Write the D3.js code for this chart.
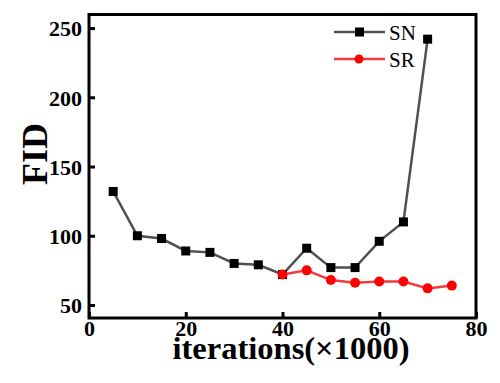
<!DOCTYPE html>
<html><head><meta charset="utf-8">
<script src="https://cdn.jsdelivr.net/npm/d3@7"></script>
<style>body{margin:0;background:#fff}svg{display:block}</style>
</head><body>
<svg id="c" width="500" height="383"></svg>
<script>
const snX = [5,10,15,20,25,30,35,40,45,50,55,60,65,70];
const snY = [132,100,98,89,88,80,79,72,91,77,77,96,110,242];
const srX = [40,45,50,55,60,65,70,75];
const srY = [72,75,68,66,67,67,62,64];
const xTicks = [0,20,40,60,80];
const yTicks = [50,100,150,200,250];
const seriesNames = ["SN","SR"];

const svg = d3.select("#c");
const L=89, R=476, T=14.5, B=318;
const x = d3.scaleLinear().domain([0,80]).range([L,R]);
const y = d3.scaleLinear().domain([40.6,259.8]).range([B,T]);
const font = "'Liberation Serif','Times New Roman',serif";

const xa = svg.append("g").attr("transform",`translate(0,${B})`)
  .call(d3.axisBottom(x).tickValues(xTicks).tickSizeInner(-6).tickSizeOuter(0).tickPadding(14));
const ya = svg.append("g").attr("transform",`translate(${L},0)`)
  .call(d3.axisLeft(y).tickValues(yTicks).tickSizeInner(-6).tickSizeOuter(0).tickPadding(7));
[xa,ya].forEach(a=>{
  a.select(".domain").remove();
  a.selectAll(".tick line").attr("stroke","#000").attr("stroke-width",3);
  a.selectAll(".tick text").attr("font-family",font).attr("font-weight","bold").attr("font-size",22).attr("fill","#000");
});
xa.selectAll(".tick text").attr("dy","0.2em");
ya.selectAll(".tick text").attr("dy","0.35em");

svg.append("rect").attr("x",L).attr("y",T).attr("width",R-L).attr("height",B-T)
  .attr("fill","none").attr("stroke","#000").attr("stroke-width",3);

const line = d3.line().x(d=>x(d[0])).y(d=>y(d[1]));
const sn = snX.map((v,i)=>[v,snY[i]]);
const sr = srX.map((v,i)=>[v,srY[i]]);

svg.append("path").attr("d",line(sn)).attr("fill","none").attr("stroke","#505050").attr("stroke-width",2.5);
svg.selectAll(".sq").data(sn).enter().append("rect")
  .attr("x",d=>x(d[0])-4.5).attr("y",d=>y(d[1])-4.5).attr("width",9).attr("height",9).attr("fill","#000");
svg.append("path").attr("d",line(sr)).attr("fill","none").attr("stroke","#f03c3c").attr("stroke-width",2.5);
svg.selectAll(".ci").data(sr).enter().append("circle")
  .attr("cx",d=>x(d[0])).attr("cy",d=>y(d[1])).attr("r",5).attr("fill","#ff0000");

const lg = [{n:seriesNames[0],c:"#505050",y:32},{n:seriesNames[1],c:"#f03c3c",y:59}];
lg.forEach((d,i)=>{
  svg.append("line").attr("x1",334).attr("x2",385).attr("y1",d.y).attr("y2",d.y).attr("stroke",d.c).attr("stroke-width",2.5);
  if(i===0) svg.append("rect").attr("x",355).attr("y",d.y-4.5).attr("width",9).attr("height",9).attr("fill","#000");
  else svg.append("circle").attr("cx",359).attr("cy",d.y).attr("r",4.5).attr("fill","#ff0000");
  svg.append("text").attr("x",389).attr("y",d.y+7.5).attr("font-family",font).attr("font-size",21).attr("fill","#000").text(d.n);
});

svg.append("text").attr("x",291).attr("y",359).attr("text-anchor","middle")
  .attr("font-family",font).attr("font-weight","bold").attr("font-size",32.5).attr("fill","#000").text("iterations(×1000)");
svg.append("text").attr("transform","translate(47,154) rotate(-90)").attr("text-anchor","middle")
  .attr("font-family",font).attr("font-weight","bold").attr("font-size",36).attr("fill","#000").text("FID");
</script>
</body></html>
